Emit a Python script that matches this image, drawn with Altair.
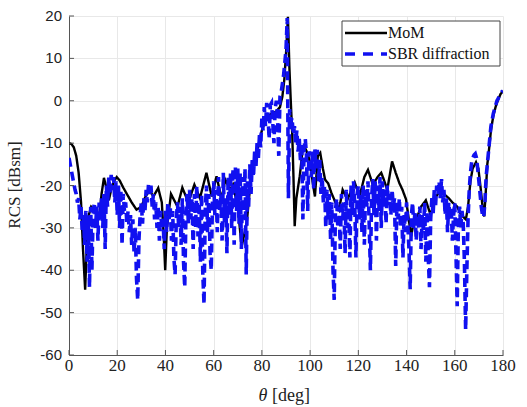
import altair as alt
import pandas as pd

# ---- MoM reference curve (theta in degrees, RCS in dBsm) ----
mom_theta = [0, 1, 2, 3, 4, 5, 5.8, 6.7, 7.4, 8.2, 9.2, 10.3, 11.5, 12.5, 13.5, 14.5,
             15.5, 16.5, 17.5, 18.6, 19.8, 21, 22.5, 24, 26, 28, 30, 31.8, 33.5, 35,
             37, 38.5, 39.3, 39.9, 40.6, 42.3, 45, 47, 49.5, 52, 54.3, 57, 59.2, 61.2,
             63.3, 64.8, 66.8, 68, 70, 71.6, 73.7, 75.8, 77.8, 80, 82, 84, 86, 87.5,
             88.5, 89.3, 90, 90.8, 91.4, 91.9, 92.6, 93.1, 93.6, 94.3, 95.7, 96.8,
             97.8, 99, 100, 101, 102, 103.2, 104.2, 105.3, 106.2, 107.5, 108.8, 110.5,
             112, 113.5, 115.5, 118.5, 120.5, 122.5, 124, 126, 128, 129.5, 130.5, 132,
             134, 135.5, 137, 138.3, 139.8, 140.8, 141.9, 143, 144.5, 146, 148, 150,
             151.8, 153.6, 155.5, 157.5, 159, 161, 162.6, 164.6, 165.5, 166.5, 167.4,
             168.8, 169.8, 170.8, 171.6, 172.2, 172.8, 173.5, 174.3, 175, 176, 177,
             178, 179, 180]
mom_rcs = [-10, -10.2, -11, -13, -17, -24, -35, -44.6, -34, -27, -25, -25.5, -27, -27.5,
           -22, -18.2, -20.5, -23.5, -21, -19, -18, -18.8, -20.5, -22, -24, -25.7, -25,
           -22.5, -21.2, -22.6, -20.6, -24, -32, -40, -30, -22, -25, -20.5, -24, -19.8,
           -23, -17, -22.6, -17.8, -23.3, -18.6, -21, -19.8, -25, -34.4, -28.8, -16.3,
           -12.3, -7, -4, -3, -2.5, -1.5, 1, 5, 11, 19.8, 8, 1, -8, -18, -29.6, -23,
           -17.8, -12, -11, -12.5, -14.7, -19, -22.6, -13, -12.3, -16, -18.6, -19.5,
           -21.7, -24, -25.7, -21, -23.3, -19.3, -22.6, -18, -16.3, -19.8, -18, -17,
           -18.5, -21, -14.3, -17, -19.4, -21, -23.3, -27.5, -32, -28.5, -27.3, -25,
           -23.5, -27, -23, -21.5, -22, -23, -24, -25, -26.9, -28, -25, -19, -16, -14.5,
           -16, -21, -25.5, -27.3, -22, -15, -11, -7, -3.5, -1.3, 0.3, 1.6, 2.3]

# ---- SBR with diffraction, sampled every 0.5 degree ----
sbr_theta = [
    0, 0.5, 1, 1.5, 2, 2.5, 3, 3.5, 4, 4.5, 5, 5.5, 6, 6.5, 7, 7.5, 8, 8.5, 9, 9.5,
    10, 10.5, 11, 11.5, 12, 12.5, 13, 13.5, 14, 14.5, 15, 15.5, 16, 16.5, 17, 17.5, 18, 18.5, 19, 19.5,
    20, 20.5, 21, 21.5, 22, 22.5, 23, 23.5, 24, 24.5, 25, 25.5, 26, 26.5, 27, 27.5, 28, 28.5, 29, 29.5,
    30, 30.5, 31, 31.5, 32, 32.5, 33, 33.5, 34, 34.5, 35, 35.5, 36, 36.5, 37, 37.5, 38, 38.5, 39, 39.5,
    40, 40.5, 41, 41.5, 42, 42.5, 43, 43.5, 44, 44.5, 45, 45.5, 46, 46.5, 47, 47.5, 48, 48.5, 49, 49.5,
    50, 50.5, 51, 51.5, 52, 52.5, 53, 53.5, 54, 54.5, 55, 55.5, 56, 56.5, 57, 57.5, 58, 58.5, 59, 59.5,
    60, 60.5, 61, 61.5, 62, 62.5, 63, 63.5, 64, 64.5, 65, 65.5, 66, 66.5, 67, 67.5, 68, 68.5, 69, 69.5,
    70, 70.5, 71, 71.5, 72, 72.5, 73, 73.5, 74, 74.5, 75, 75.5, 76, 76.5, 77, 77.5, 78, 78.5, 79, 79.5,
    80, 80.5, 81, 81.5, 82, 82.5, 83, 83.5, 84, 84.5, 85, 85.5, 86, 86.5, 87, 87.5, 88, 88.5, 89, 89.5,
    90, 90.5, 91, 91.5, 92, 92.5, 93, 93.5, 94, 94.5, 95, 95.5, 96, 96.5, 97, 97.5, 98, 98.5, 99, 99.5,
    100, 100.5, 101, 101.5, 102, 102.5, 103, 103.5, 104, 104.5, 105, 105.5, 106, 106.5, 107, 107.5, 108, 108.5, 109, 109.5,
    110, 110.5, 111, 111.5, 112, 112.5, 113, 113.5, 114, 114.5, 115, 115.5, 116, 116.5, 117, 117.5, 118, 118.5, 119, 119.5,
    120, 120.5, 121, 121.5, 122, 122.5, 123, 123.5, 124, 124.5, 125, 125.5, 126, 126.5, 127, 127.5, 128, 128.5, 129, 129.5,
    130, 130.5, 131, 131.5, 132, 132.5, 133, 133.5, 134, 134.5, 135, 135.5, 136, 136.5, 137, 137.5, 138, 138.5, 139, 139.5,
    140, 140.5, 141, 141.5, 142, 142.5, 143, 143.5, 144, 144.5, 145, 145.5, 146, 146.5, 147, 147.5, 148, 148.5, 149, 149.5,
    150, 150.5, 151, 151.5, 152, 152.5, 153, 153.5, 154, 154.5, 155, 155.5, 156, 156.5, 157, 157.5, 158, 158.5, 159, 159.5,
    160, 160.5, 161, 161.5, 162, 162.5, 163, 163.5, 164, 164.5, 165, 165.5, 166, 166.5, 167, 167.5, 168, 168.5, 169, 169.5,
    170, 170.5, 171, 171.5, 172, 172.5, 173, 173.5, 174, 174.5, 175, 175.5, 176, 176.5, 177, 177.5, 178, 178.5, 179, 179.5,
    180]
sbr_rcs = [
    -13.5, -15, -16.5, -18, -19.5, -21, -22, -24, -23, -28, -25, -31, -27, -34, -26, -38, -27, -44, -25, -40,
    -27, -24, -30, -25, -33, -24, -28, -23, -30, -22, -35, -20, -25, -18, -22, -17.5, -21, -18, -24, -19,
    -27, -20, -30, -21, -34, -22, -26, -24, -29, -26, -31, -27, -34, -28, -36, -30, -42, -47, -33, -27,
    -24, -29, -23, -26, -21, -24, -19.5, -22, -20, -25, -22, -28, -24, -30, -25, -33, -26, -30, -28, -35,
    -26, -31, -24, -28, -25, -33, -26, -37, -41, -28, -24, -30, -25, -34, -23, -38, -44, -27, -22, -29,
    -21, -28, -23, -35, -22, -30, -20, -32, -24, -38, -22, -41, -48, -26, -20, -31, -22, -36, -40, -24,
    -19, -27, -21, -31, -18, -26, -22, -33, -17, -29, -23, -36, -18, -27, -17, -30, -16, -34, -15.5, -26,
    -16, -29, -17, -35, -18, -28, -16, -41, -19, -25, -15, -22, -14, -18, -12, -16, -10, -14, -8, -11,
    -4, -7, -1.5, -6, -0.5, -3, -9, -1, -0.5, -5, -10, -2, 0, -4, -13, 1, 2, 4, 6, 9,
    12, 19.5, -23, -2, -5, -4, -8, -6, -10, -7, -12, -9, -14, -10, -28, -11, -9, -13, -26, -12,
    -13, -18, -12, -21, -11.5, -16, -11.6, -19, -14, -22, -18, -24, -20, -30, -21, -28, -22, -33, -24, -40,
    -47, -26, -23, -30, -25, -35, -22, -28, -24, -36, -21, -30, -25, -37, -20, -27, -19, -24, -37, -22,
    -20, -28, -22, -31, -20, -34, -21, -25, -19, -29, -40, -23, -18.5, -27, -19, -33, -20, -26, -18, -30,
    -19, -25, -21, -29, -20, -24, -22, -27, -21, -25, -23, -39, -24, -28, -23, -30, -25, -37, -27, -31,
    -24, -29, -35, -44.5, -27, -24, -30, -26, -33, -27, -30, -25, -35, -27, -31, -24, -38, -26, -37, -44,
    -28, -23, -27, -21, -25, -20, -22, -19, -23, -18.5, -24, -21, -27, -23, -31, -24, -28, -25, -33, -27,
    -24, -36, -48.5, -29, -25, -30, -26, -29, -38, -54, -40, -28, -21, -17, -14.5, -13.5, -12.8, -12.5, -13.5, -16,
    -19, -22, -25, -27, -27.5, -24, -18, -15, -12, -9, -6, -4.5, -3, -2, -1, 0, 0.5, 1.2, 1.7, 2.1,
    2.3]

series_names = ["MoM", "SBR diffraction"]
series_colors = ["#000000", "#1010f0"]
series_widths = [2.4, 3.6]
series_dashes = [[1, 0], [9, 5]]
x_ticks = [0, 20, 40, 60, 80, 100, 120, 140, 160, 180]
y_ticks = [-60, -50, -40, -30, -20, -10, 0, 10, 20]
y_tick_labels = ["-60", "-50", "-40", "-30", "-20", "-10", "0", "10", "20"]

W, H = 434, 339
SERIF = "Liberation Serif"
SANS = "Liberation Sans"
AXIS_GRAY = "#555555"
GRID_GRAY = "#e8e8e8"
TEXT = "#222222"

curves = pd.concat([
    pd.DataFrame({"theta": mom_theta, "rcs": mom_rcs, "series": series_names[0]}),
    pd.DataFrame({"theta": sbr_theta, "rcs": sbr_rcs, "series": series_names[1]}),
], ignore_index=True)

x_scale = alt.Scale(domain=[0, 180], nice=False, zero=False)
y_scale = alt.Scale(domain=[-60, 20], nice=False, zero=False)

# axes carry only the domain line and grid; labels are drawn as text layers
x_axis = alt.Axis(values=x_ticks, title=None, grid=True, tickSize=0, labels=False,
                  domainColor=AXIS_GRAY, gridColor=GRID_GRAY)
y_axis = alt.Axis(values=y_ticks, title=None, grid=True, tickSize=0, labels=False,
                  domainColor=AXIS_GRAY, gridColor=GRID_GRAY)

lines = alt.Chart(curves).mark_line(clip=True).encode(
    x=alt.X("theta:Q", scale=x_scale, axis=x_axis),
    y=alt.Y("rcs:Q", scale=y_scale, axis=y_axis),
    color=alt.Color("series:N", legend=None,
                    scale=alt.Scale(domain=series_names, range=series_colors)),
    strokeDash=alt.StrokeDash("series:N", legend=None,
                              scale=alt.Scale(domain=series_names, range=series_dashes)),
    strokeWidth=alt.StrokeWidth("series:N", legend=None,
                                scale=alt.Scale(domain=series_names, range=series_widths)),
    order=alt.Order("theta:Q"),
)

# inward tick marks on the bottom and left axes
x_tick_marks = alt.Chart(pd.DataFrame({"theta": x_ticks})).mark_rule(
    color=AXIS_GRAY, strokeWidth=1
).encode(x=alt.X("theta:Q", scale=x_scale, axis=x_axis), y=alt.value(H), y2=alt.value(H - 5))

y_tick_marks = alt.Chart(pd.DataFrame({"rcs": y_ticks})).mark_rule(
    color=AXIS_GRAY, strokeWidth=1
).encode(y=alt.Y("rcs:Q", scale=y_scale, axis=y_axis), x=alt.value(0), x2=alt.value(5))

# tick labels: serif on the angle axis, sans on the RCS axis
x_tick_text = alt.Chart(pd.DataFrame({"theta": x_ticks})).mark_text(
    font=SERIF, fontSize=17, align="center", baseline="top", color=TEXT
).encode(x=alt.X("theta:Q", scale=x_scale, axis=x_axis), y=alt.value(H + 3), text="theta:Q")

y_tick_text = alt.Chart(pd.DataFrame({"rcs": y_ticks, "lab": y_tick_labels})).mark_text(
    font=SANS, fontSize=15, align="right", baseline="middle", color=TEXT
).encode(y=alt.Y("rcs:Q", scale=y_scale, axis=y_axis), x=alt.value(-7), text="lab:N")

# axis titles
x_title_sym = alt.Chart(pd.DataFrame({"t": ["θ"]})).mark_text(
    font=SERIF, fontSize=18, fontStyle="italic", align="center", baseline="alphabetic", color=TEXT
).encode(text="t:N", x=alt.value(194), y=alt.value(385))

x_title_unit = alt.Chart(pd.DataFrame({"t": ["[deg]"]})).mark_text(
    font=SERIF, fontSize=18, align="left", baseline="alphabetic", color=TEXT
).encode(text="t:N", x=alt.value(203), y=alt.value(385))

y_title = alt.Chart(pd.DataFrame({"t": ["RCS [dBsm]"]})).mark_text(
    font=SERIF, fontSize=17, align="center", baseline="middle", angle=270, color=TEXT
).encode(text="t:N", x=alt.value(-54), y=alt.value(169))

# legend box with line samples and labels
legend_box = alt.Chart(pd.DataFrame({"k": [0]})).mark_rect(
    fill="white", stroke="#444444", strokeWidth=1
).encode(x=alt.value(273), x2=alt.value(431), y=alt.value(5), y2=alt.value(50))

legend_mom = alt.Chart(pd.DataFrame({"k": [0]})).mark_rule(
    color=series_colors[0], strokeWidth=series_widths[0]
).encode(x=alt.value(276), x2=alt.value(318), y=alt.value(17))

legend_sbr = alt.Chart(pd.DataFrame({"k": [0]})).mark_rule(
    color=series_colors[1], strokeWidth=series_widths[1], strokeDash=[10, 8]
).encode(x=alt.value(276), x2=alt.value(318), y=alt.value(38))

legend_labels = alt.Chart(pd.DataFrame({"name": series_names, "row": [17, 38]})).mark_text(
    font=SERIF, fontSize=16, align="left", baseline="middle", color="#111111"
).encode(text="name:N", x=alt.value(319), y=alt.Y("row:Q", scale=None, axis=None))

chart = alt.layer(
    lines, x_tick_marks, y_tick_marks, x_tick_text, y_tick_text,
    x_title_sym, x_title_unit, y_title,
    legend_box, legend_mom, legend_sbr, legend_labels
).properties(
    width=W, height=H,
    autosize=alt.AutoSizeParams(type="none"),
    padding={"left": 69, "top": 16, "right": 24, "bottom": 52},
    background="white",
).configure_view(
    stroke=None
)

chart.save("out.html", embed_options={"renderer": "svg", "actions": False})
